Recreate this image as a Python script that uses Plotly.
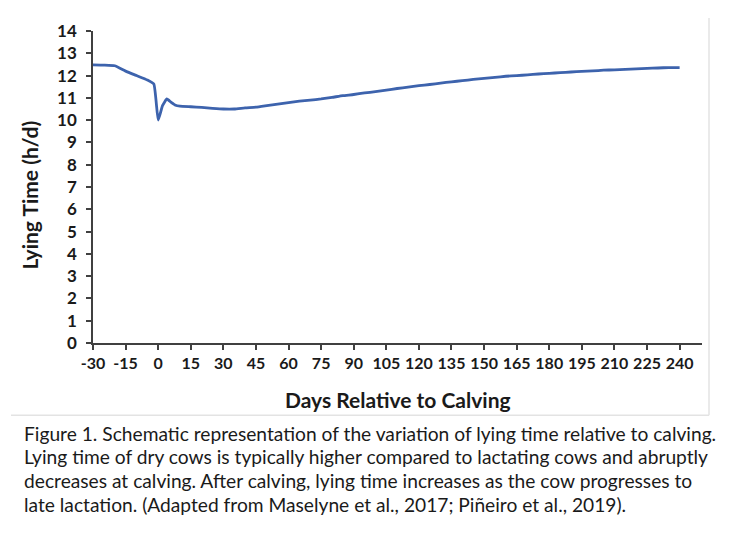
import plotly.graph_objects as go

days = [-30, -25, -20, -15, -10, -5, -2, 0, 2, 4, 6, 8, 10, 15, 20, 25, 30, 35, 40, 45,
        50, 55, 60, 65, 70, 75, 80, 85, 90, 95, 100, 105, 110, 115, 120, 125, 130, 135,
        140, 145, 150, 155, 160, 165, 170, 175, 180, 185, 190, 195, 200, 205, 210, 215,
        220, 225, 230, 235, 240]
lying_time = [12.48, 12.47, 12.44, 12.2, 12.0, 11.8, 11.62, 10.0, 10.65, 10.95, 10.8, 10.67,
              10.63, 10.6, 10.57, 10.53, 10.5, 10.5, 10.55, 10.58, 10.65, 10.72, 10.79,
              10.85, 10.9, 10.95, 11.02, 11.1, 11.15, 11.22, 11.28, 11.35, 11.42, 11.48,
              11.55, 11.6, 11.66, 11.72, 11.77, 11.83, 11.87, 11.92, 11.97, 12.0, 12.03,
              12.07, 12.1, 12.13, 12.16, 12.19, 12.21, 12.24, 12.26, 12.28, 12.3, 12.32,
              12.34, 12.36, 12.36]
x_ticks = list(range(-30, 241, 15))
y_ticks = list(range(0, 15))
caption_lines = [
    "Figure 1. Schematic representation of the variation of lying time relative to calving.",
    "Lying time of dry cows is typically higher compared to lactating cows and abruptly",
    "decreases at calving. After calving, lying time increases as the cow progresses to",
    "late lactation. (Adapted from Maselyne et al., 2017; Piñeiro et al., 2019).",
]

FONT = "Lato"
OFF = 8  # page body margin
W, H = 716, 527
ML, MT = 93 - OFF, 28 - OFF
PLOT_R, PLOT_B = 702 - OFF, 343 - OFF
MR, MB = W - PLOT_R, H - PLOT_B
PH = H - MT - MB
PW = W - ML - MR

def py(ypx):
    return (PLOT_B - (ypx - OFF)) / PH

def px(xpx):
    return (xpx - OFF - ML) / PW

fig = go.Figure()
fig.add_trace(go.Scatter(x=days, y=lying_time, mode="lines",
                         line=dict(color="#3d63ad", width=2.8, shape="spline", smoothing=0.4),
                         hoverinfo="skip"))

fig.update_layout(
    width=W, height=H,
    margin=dict(l=ML, r=MR, t=MT, b=MB),
    paper_bgcolor="white", plot_bgcolor="white",
    showlegend=False,
    font=dict(family=FONT, color="#1a1a1a"),
    xaxis=dict(range=[-30, 250.3], tickvals=x_ticks, ticktext=[str(v) for v in x_ticks],
               showgrid=False, zeroline=False, showline=True, linecolor="#404040", linewidth=1.5,
               ticks="outside", ticklen=5, tickcolor="#404040", tickwidth=1.5,
               tickfont=dict(family=FONT, size=16, color="#1a1a1a", weight="bold")),
    yaxis=dict(range=[0, 14], tickvals=y_ticks,
               showgrid=False, zeroline=False, showline=True, linecolor="#404040", linewidth=1.5,
               ticks="outside", ticklen=5, tickcolor="#404040", tickwidth=1.5,
               ticklabelstandoff=6,
               tickfont=dict(family=FONT, size=17, color="#1a1a1a", weight="bold")),
)

annotations = [
    dict(text="<b>Days Relative to Calving</b>", x=px(398), y=py(400), xref="paper", yref="paper",
         xanchor="center", yanchor="middle",
         showarrow=False, font=dict(family=FONT, size=21, color="#1a1a1a")),
    dict(text="<b>Lying Time (h/d)</b>", x=px(29), y=py(194), xref="paper", yref="paper",
         xanchor="center", yanchor="middle",
         showarrow=False, textangle=-90, font=dict(family=FONT, size=21, color="#1a1a1a")),
]
for i, line in enumerate(caption_lines):
    annotations.append(dict(text=line, x=px(22), y=py(434 + 24 * i), xref="paper", yref="paper",
                            xanchor="left", yanchor="middle", showarrow=False,
                            font=dict(family=FONT, size=19.2, color="#1a1a1a")))
fig.update_layout(annotations=annotations)

fig.add_shape(type="line", xref="paper", yref="paper", x0=px(709), x1=px(709), y0=py(15), y1=py(416),
              line=dict(color="#e3e3e3", width=1.5))
fig.add_shape(type="line", xref="paper", yref="paper", x0=px(11), x1=px(709), y0=py(416), y1=py(416),
              line=dict(color="#e3e3e3", width=1.5))

fig.write_html("out.html")
